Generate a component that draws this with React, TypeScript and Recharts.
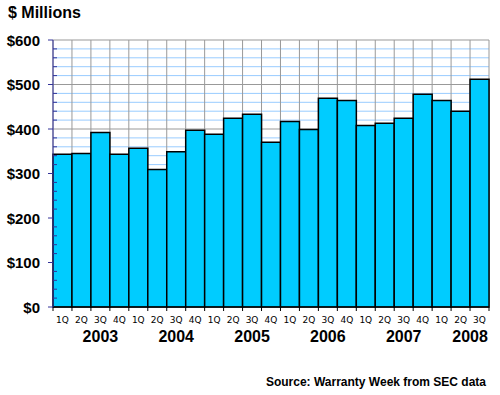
import React from 'react'
import { BarChart, Bar, XAxis, YAxis, CartesianGrid } from 'recharts'

document.body.style.margin = '0'

const quarters = [
  '1Q', '2Q', '3Q', '4Q', '1Q', '2Q', '3Q', '4Q', '1Q', '2Q', '3Q', '4Q',
  '1Q', '2Q', '3Q', '4Q', '1Q', '2Q', '3Q', '4Q', '1Q', '2Q', '3Q',
]
const years = [
  '2003', '2003', '2003', '2003', '2004', '2004', '2004', '2004', '2005', '2005', '2005', '2005',
  '2006', '2006', '2006', '2006', '2007', '2007', '2007', '2007', '2008', '2008', '2008',
]
// warranty reserves, $ millions
const reserves = [
  343, 345, 392, 343, 357, 309, 349, 397, 388, 424, 433, 370,
  417, 399, 469, 464, 408, 413, 424, 478, 464, 440, 512,
]
const yTicks = [
  0, 20, 40, 60, 80, 100, 120, 140, 160, 180, 200, 220, 240, 260, 280, 300,
  320, 340, 360, 380, 400, 420, 440, 460, 480, 500, 520, 540, 560, 580, 600,
]

const W = 500
const H = 395
const MARGIN = { top: 40, right: 11, left: 0, bottom: 28 }
const Y_AXIS_W = 53
const X_AXIS_H = 60
const PLOT_W = W - MARGIN.left - Y_AXIS_W - MARGIN.right
const BAND = PLOT_W / quarters.length
const NAVY = '#333399'
const FONT = '"Liberation Sans", Arial, sans-serif'

const data = quarters.map((q, i) => ({
  key: `${years[i]}-${q}`,
  quarter: q,
  year: years[i],
  value: reserves[i],
}))

const QuarterTick = ({ x, y, payload }: any) => {
  const i = data.findIndex(d => d.key === payload.value)
  if (i < 0) return null
  const d = data[i]
  const group = data.filter(e => e.year === d.year)
  const pos = group.indexOf(d)
  const left = x - BAND / 2
  return (
    <g>
      <line x1={left} x2={left} y1={y} y2={y + 4} stroke="#000" />
      {i === data.length - 1 && <line x1={x + BAND / 2} x2={x + BAND / 2} y1={y} y2={y + 4} stroke="#000" />}
      <text x={x} y={y + 16} textAnchor="middle" fontSize={9} fontFamily="DejaVu Sans, Verdana, sans-serif" fill="#000">
        {d.quarter}
      </text>
      {pos === 2 && (
        <text x={x + (group.length / 2 - 2.5) * BAND + BAND / 2} y={y + 35} textAnchor="middle"
          fontSize={16} fontWeight="bold" fontFamily={FONT} fill="#000">
          {d.year}
        </text>
      )}
    </g>
  )
}

const ValueTick = ({ x, y, payload }: any) => {
  const major = payload.value % 100 === 0
  if (!major) return <line x1={x} x2={x + 4} y1={y} y2={y} stroke={NAVY} />
  return (
    <g>
      <line x1={x - 5} x2={x} y1={y} y2={y} stroke={NAVY} />
      <text x={x - 13} y={y + 5.5} textAnchor="end" fontSize={15} fontWeight="bold" fontFamily={FONT} fill="#000">
        ${payload.value}
      </text>
    </g>
  )
}

export default function App() {
  return (
    <div style={{ position: 'relative', width: W, height: H, background: '#fff' }}>
      <div style={{ position: 'absolute', left: 8, top: 5, fontSize: 16, lineHeight: '16px', fontWeight: 'bold', fontFamily: FONT, color: '#000' }}>
        $ Millions
      </div>
      <BarChart width={W} height={H} data={data} margin={MARGIN} barCategoryGap={0}>
        <CartesianGrid
          stroke="#999999"
          horizontal={(p: any) => (
            <line key={p.key} x1={p.x1} y1={p.y1} x2={p.x2} y2={p.y2}
              stroke={p.index % 5 === 0 ? '#999999' : '#99ccff'} strokeWidth={1} />
          )}
          verticalCoordinatesGenerator={({ offset }: any) =>
            quarters.map((_, i) => offset.left + i * offset.width / quarters.length).concat(offset.left + offset.width)
          }
        />
        <XAxis dataKey="key" interval={0} height={X_AXIS_H} tickSize={0} tickMargin={0}
          tickLine={false} axisLine={{ stroke: '#000' }} tick={<QuarterTick />} />
        <YAxis domain={[0, 600]} ticks={yTicks} interval={0} width={Y_AXIS_W} tickSize={0} tickMargin={0}
          tickLine={false} axisLine={{ stroke: NAVY }} tick={<ValueTick />} />
        <Bar dataKey="value" fill="#00ccff" stroke="#000" strokeWidth={1.5} isAnimationActive={false} />
      </BarChart>
      <div style={{ position: 'absolute', right: 14, top: 376, fontSize: 12, lineHeight: '12px', fontWeight: 'bold', fontFamily: FONT, color: '#000' }}>
        Source: Warranty Week from SEC data
      </div>
    </div>
  )
}
